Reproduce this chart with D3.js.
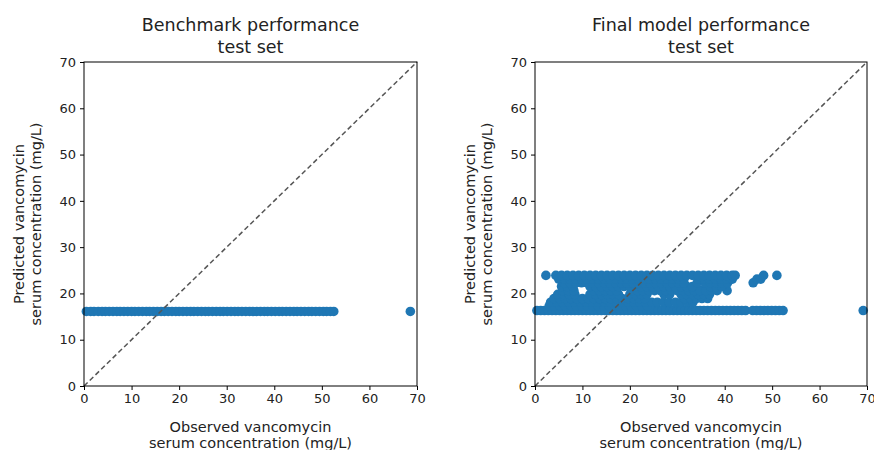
<!DOCTYPE html>
<html>
<head>
<meta charset="utf-8">
<script src="https://cdn.jsdelivr.net/npm/d3@7"></script>
<style>
  body { margin: 0; background: #fff; }
  text { font-family: "DejaVu Sans", sans-serif; fill: #222; }
</style>
</head>
<body>
<svg id="chart" width="874" height="450"></svg>
<script>
// axis ticks shared by both panels
var ticks = [0, 10, 20, 30, 40, 50, 60, 70];

// benchmark: every sample gets the same prediction
var benchPrediction = 16.1;
var benchObserved = [0.5, 1.4, 2.1, 3.0, 3.8, 4.5, 5.3, 6.1, 6.9, 7.6, 8.4, 9.2, 10.0, 10.7, 11.5, 12.3,
  13.1, 13.8, 14.6, 15.4, 16.2, 16.9, 17.7, 18.5, 19.3, 20.0, 20.8, 21.6, 22.4, 23.1, 23.9, 24.7, 25.5,
  26.2, 27.0, 27.8, 28.6, 29.3, 30.1, 30.9, 31.7, 32.4, 33.2, 34.0, 34.8, 35.5, 36.3, 37.1, 37.9, 38.6,
  39.4, 40.2, 41.0, 41.7, 42.5, 43.3, 44.1, 44.8, 45.6, 46.4, 47.2, 47.9, 48.7, 49.5, 50.3, 51.0, 51.8,
  52.5, 68.6];

// final model: predictions fall on a few levels, observed values listed per level
var finalLevels = [16.3, 17.3, 18.1, 18.9, 19.8, 20.6, 21.5, 22.3, 23.1, 23.9];
var finalObserved = [
  [0.4, 1.2, 2.0, 2.8, 3.6, 4.4, 5.2, 6.0, 6.8, 7.6, 8.4, 9.2, 10.0, 10.8, 11.6, 12.4, 13.2, 14.0, 14.8,
   15.6, 16.4, 17.2, 18.0, 18.8, 19.6, 20.4, 21.2, 22.0, 22.8, 23.6, 24.4, 25.2, 26.0, 26.8, 27.6, 28.4,
   29.2, 30.0, 30.8, 31.6, 32.4, 33.2, 34.0, 34.8, 35.6, 36.4, 37.2, 38.0, 38.8, 39.6, 40.4, 41.2, 42.0,
   42.8, 43.6, 44.4, 45.9, 46.7, 47.5, 48.3, 49.1, 49.9, 50.7, 51.5, 52.3, 69.2],
  [3.0, 4.1, 5.3, 6.4, 7.6, 8.7, 9.9, 11.0, 12.2, 13.3, 14.5, 15.6, 16.8, 17.9, 19.1, 20.2, 21.4, 22.5, 23.7],
  [3.3, 4.6, 5.8, 7.1, 8.3, 9.6, 10.8, 12.1, 13.3, 14.6, 15.8, 17.1, 18.3, 19.6, 20.8, 22.1, 23.3, 24.6,
   25.8, 27.1, 28.3, 29.6, 30.8, 32.1, 33.3],
  [4.0, 5.2, 6.4, 7.6, 8.8, 10.0, 11.2, 12.4, 13.6, 14.8, 16.0, 17.2, 18.4, 19.6, 20.8, 22.0, 23.2, 31.6,
   32.8, 34.0, 35.2, 36.4],
  [4.8, 6.0, 7.2, 8.4, 11.6, 12.8, 14.0, 15.2, 16.4, 17.6, 20.0, 21.2, 22.4, 23.6, 27.2, 28.4, 30.8, 32.0,
   33.2, 34.4, 35.6, 36.8],
  [5.8, 7.0, 8.2, 12.4, 13.6, 14.8, 16.0, 17.2, 20.4, 21.6, 22.8, 24.0, 25.2, 26.4, 27.6, 28.8, 30.0, 31.2,
   32.4, 33.6, 34.8, 36.0, 37.2, 38.4, 40.5],
  [5.6, 6.8, 8.0, 11.6, 12.8, 14.0, 15.2, 16.4, 17.6, 18.8, 20.0, 21.2, 22.4, 23.6, 24.8, 26.0, 27.2, 28.4,
   29.6, 30.8, 32.0, 33.2, 37.0, 38.2, 39.4],
  [6.2, 7.4, 8.6, 9.8, 11.0, 12.2, 13.4, 14.6, 15.8, 17.0, 18.2, 19.4, 20.6, 21.8, 23.0, 24.2, 25.4, 26.6,
   27.8, 29.0, 30.2, 31.4, 34.2, 35.8, 37.0, 38.2, 39.4, 40.6, 46.0],
  [5.0, 6.2, 7.4, 8.6, 9.8, 11.0, 12.2, 13.4, 14.6, 15.8, 17.0, 18.2, 19.4, 20.6, 21.8, 23.0, 24.2, 25.4,
   26.6, 27.8, 29.0, 30.2, 31.4, 34.4, 35.6, 36.8, 38.0, 39.2, 40.4, 41.6, 46.8, 47.6],
  [2.3, 4.4, 5.6, 6.8, 8.0, 9.2, 10.4, 11.6, 12.8, 14.0, 15.2, 16.4, 17.6, 18.8, 20.0, 21.2, 22.4, 23.6,
   24.8, 26.0, 27.2, 28.4, 29.6, 30.8, 32.0, 33.2, 34.4, 35.6, 36.8, 38.0, 39.2, 40.4, 41.6, 42.2, 48.2, 51.0]
];

var benchPoints = benchObserved.map(function (x) { return [x, benchPrediction]; });
var finalPoints = [];
finalLevels.forEach(function (lvl, i) {
  finalObserved[i].forEach(function (x) { finalPoints.push([x, lvl]); });
});

var svg = d3.select('#chart');

function panel(left, right, title, points) {
  var top = 62, bottom = 386;
  var x = d3.scaleLinear().domain([0, 70]).range([left, right]);
  var y = d3.scaleLinear().domain([0, 70]).range([bottom, top]);
  var g = svg.append('g');

  g.append('g').selectAll('circle').data(points).enter()
    .append('circle')
    .attr('cx', function (d) { return x(d[0]); })
    .attr('cy', function (d) { return y(d[1]); })
    .attr('r', 4.8)
    .attr('fill', '#1f77b4');

  // identity line
  g.append('line')
    .attr('x1', x(0)).attr('y1', y(0))
    .attr('x2', x(70)).attr('y2', y(70))
    .attr('stroke', '#555').attr('stroke-width', 1.5)
    .attr('stroke-dasharray', '5,3');

  g.append('rect')
    .attr('x', left).attr('y', top)
    .attr('width', right - left).attr('height', bottom - top)
    .attr('fill', 'none').attr('stroke', '#000').attr('stroke-width', 1);

  var xa = g.append('g').attr('transform', 'translate(0,' + bottom + ')')
    .call(d3.axisBottom(x).tickValues(ticks).tickSize(4).tickPadding(4));
  var ya = g.append('g').attr('transform', 'translate(' + left + ',0)')
    .call(d3.axisLeft(y).tickValues(ticks).tickSize(4).tickPadding(4));
  [xa, ya].forEach(function (a) {
    a.select('.domain').remove();
    a.selectAll('text').style('font-family', '"DejaVu Sans", sans-serif').style('font-size', '13px').attr('fill', '#222');
    a.selectAll('line').attr('stroke', '#000');
  });

  var cx = (left + right) / 2;
  g.append('text').attr('x', cx).attr('y', 31).attr('text-anchor', 'middle')
    .style('font-size', '17.5px').text(title);
  g.append('text').attr('x', cx).attr('y', 53).attr('text-anchor', 'middle')
    .style('font-size', '17.5px').text('test set');

  g.append('text').attr('x', cx).attr('y', 432).attr('text-anchor', 'middle')
    .style('font-size', '14.5px').text('Observed vancomycin');
  g.append('text').attr('x', cx).attr('y', 448).attr('text-anchor', 'middle')
    .style('font-size', '14.5px').text('serum concentration (mg/L)');

  var cy = (top + bottom) / 2;
  g.append('text').attr('transform', 'translate(' + (left - 60) + ',' + cy + ') rotate(-90)')
    .attr('text-anchor', 'middle').style('font-size', '14.5px').text('Predicted vancomycin');
  g.append('text').attr('transform', 'translate(' + (left - 43) + ',' + cy + ') rotate(-90)')
    .attr('text-anchor', 'middle').style('font-size', '14.5px').text('serum concentration (mg/L)');
}

panel(84, 417, 'Benchmark performance', benchPoints);
panel(535, 867, 'Final model performance', finalPoints);
</script>
</body>
</html>
